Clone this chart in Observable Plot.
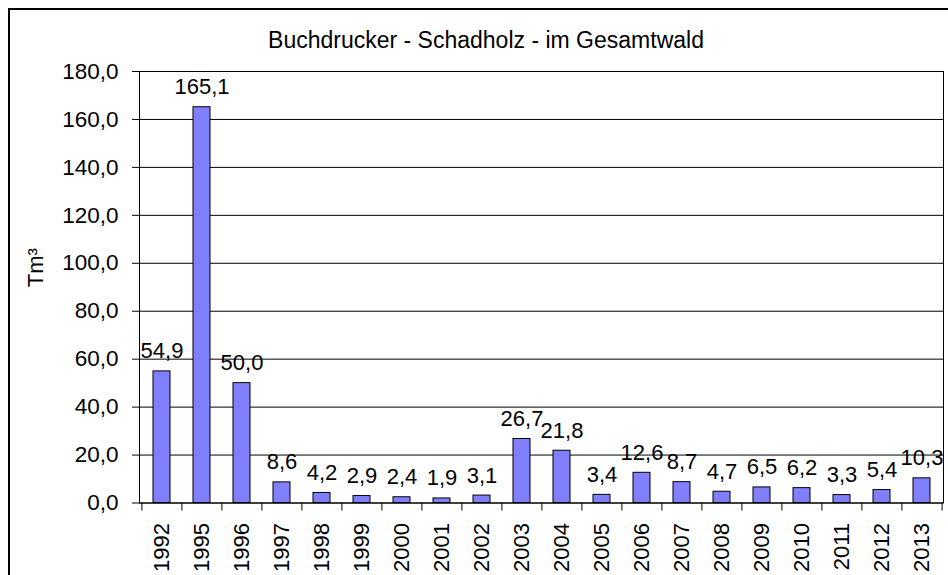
<!DOCTYPE html>
<html>
<head>
<meta charset="utf-8">
<script src="https://cdn.jsdelivr.net/npm/d3@7"></script>
<script src="https://cdn.jsdelivr.net/npm/@observablehq/plot@0.6"></script>
<style>
  html, body { margin: 0; padding: 0; background: #fff; overflow: hidden; }
  #chart { position: relative; width: 948px; height: 575px; overflow: hidden; font-family: "Liberation Sans", Arial, sans-serif; }
  #border { position: absolute; left: 8px; top: 8px; width: 1000px; height: 700px; border: 2px solid #000; box-sizing: border-box; }
  #title { position: relative; width: 972px; height: 60px; box-sizing: border-box; padding-top: 30px; line-height: 21px; font-size: 23px; text-align: center; color: #000; }
  #plot { position: relative; }
</style>
</head>
<body>
<div id="chart">
  <div id="border"></div>
  <div id="title">Buchdrucker - Schadholz - im Gesamtwald</div>
  <div id="plot"></div>
</div>
<script>
const years = ["1992","1995","1996","1997","1998","1999","2000","2001","2002","2003","2004","2005","2006","2007","2008","2009","2010","2011","2012","2013"];
const values = [54.9,165.1,50.0,8.6,4.2,2.9,2.4,1.9,3.1,26.7,21.8,3.4,12.6,8.7,4.7,6.5,6.2,3.3,5.4,10.3];
const yTicks = [0,20,40,60,80,100,120,140,160,180];
const yLabel = "Tm³";

const data = years.map((y, i) => ({year: y, value: values[i]}));
const fmt = v => v.toFixed(1).replace(".", ",");

const W = 948, H = 515;
const mL = 139, mR = 5, mT = 11, mB = 72.5;
const step = (W - mL - mR) / years.length;
const plotH = H - mT - mB;

const chart = Plot.plot({
  width: W, height: H,
  marginLeft: mL, marginRight: mR, marginTop: mT, marginBottom: mB,
  style: {fontFamily: "'Liberation Sans', Arial, sans-serif", fontSize: "22px", color: "#000", background: "transparent", overflow: "visible"},
  x: {type: "band", domain: years, paddingInner: 0.58, paddingOuter: 0.29, label: null},
  y: {domain: [0, 180], label: null},
  marks: [
    Plot.gridY(yTicks.slice(1, -1), {stroke: "#000", strokeOpacity: 1}),
    Plot.barY(data, {x: "year", y: "value", fill: "#8080FF", stroke: "#000", strokeWidth: 1}),
    Plot.text(data, {x: "year", y: "value", text: d => fmt(d.value), dy: -13, lineAnchor: "bottom", fontSize: 22, fill: "#000"}),
    Plot.axisY(yTicks, {tickFormat: fmt, tickSize: 7, tickPadding: 14, label: null, fontSize: 22.5}),
    Plot.axisX({tickSize: 0, tickRotate: -90, tickPadding: 20, label: null, fontSize: 22}),
    Plot.ruleX(years, {x: d => d, dx: -step / 2, insetTop: plotH, insetBottom: -8, stroke: "#000"}),
    Plot.ruleX([years[years.length - 1]], {x: d => d, dx: step / 2, insetTop: plotH, insetBottom: -8, stroke: "#000"}),
    Plot.ruleY([0], {stroke: "#000"}),
    Plot.frame({stroke: "#000"}),
    Plot.text([yLabel], {frameAnchor: "left", dx: -104, rotate: -90, fontSize: 22, fill: "#000"})
  ]
});
document.getElementById("plot").appendChild(chart);
</script>
</body>
</html>
